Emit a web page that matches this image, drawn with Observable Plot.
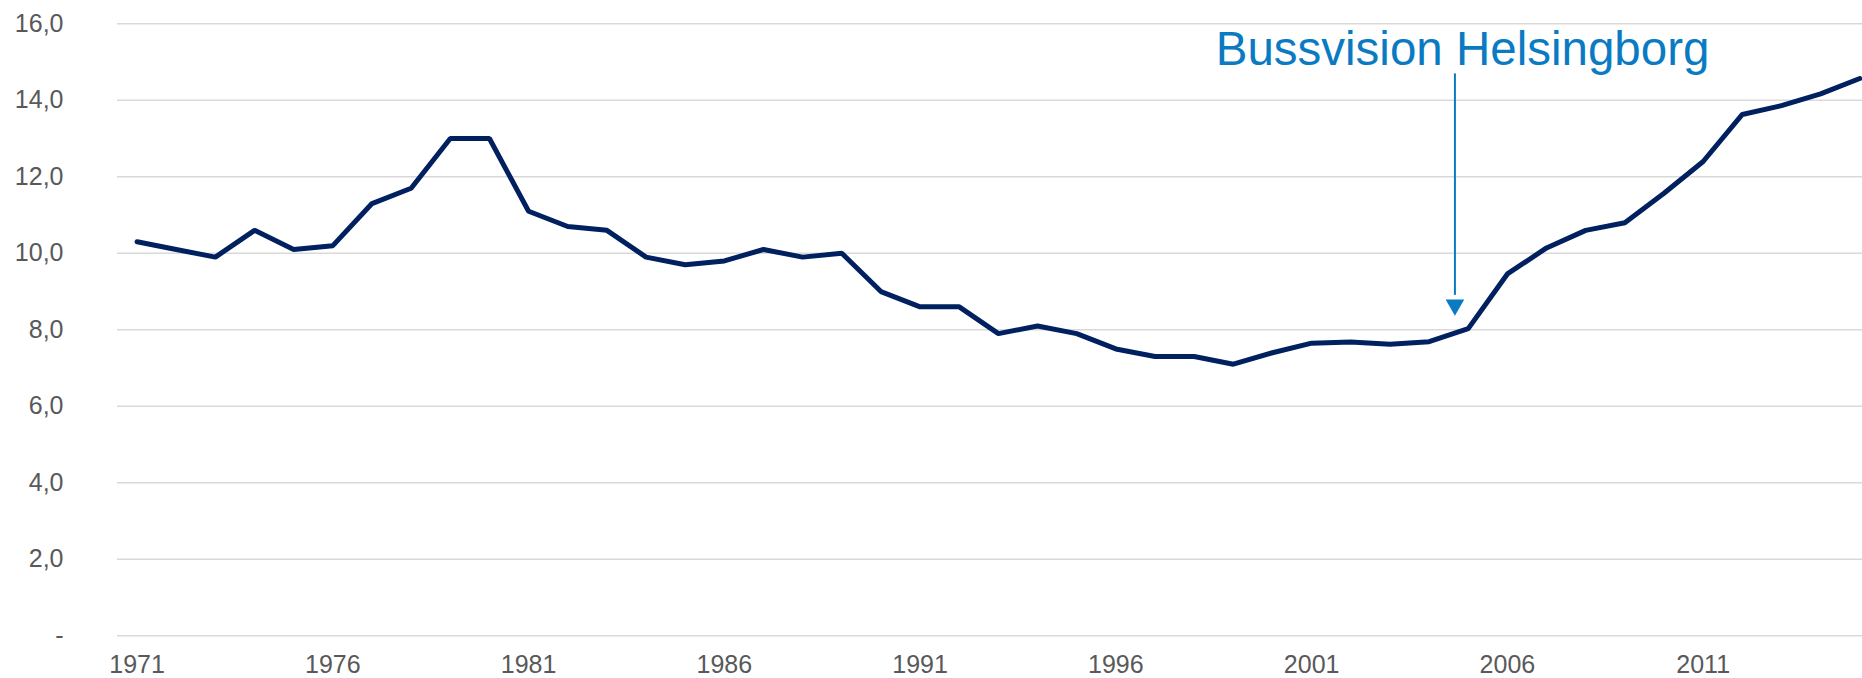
<!DOCTYPE html>
<html>
<head>
<meta charset="utf-8">
<script src="https://cdn.jsdelivr.net/npm/d3@7"></script>
<script src="https://cdn.jsdelivr.net/npm/@observablehq/plot@0.6"></script>
<style>
  html, body { margin: 0; padding: 0; background: #ffffff; }
  #chart svg { display: block; }
</style>
</head>
<body>
<div id="chart"></div>
<script>
// Years and values
const years = [1971,1972,1973,1974,1975,1976,1977,1978,1979,1980,
               1981,1982,1983,1984,1985,1986,1987,1988,1989,1990,
               1991,1992,1993,1994,1995,1996,1997,1998,1999,2000,
               2001,2002,2003,2004,2005,2006,2007,2008,2009,2010,
               2011,2012,2013,2014,2015];
const values = [10.3,10.1,9.9,10.6,10.1,10.2,11.3,11.7,13.0,13.0,
                11.1,10.7,10.6,9.9,9.7,9.8,10.1,9.9,10.0,9.0,
                8.6,8.6,7.9,8.1,7.9,7.5,7.3,7.3,7.1,7.4,
                7.65,7.68,7.62,7.69,8.03,9.46,10.14,10.6,10.8,11.57,
                12.4,13.63,13.86,14.17,14.57];

// Tick labels
const xTicks = [1971,1976,1981,1986,1991,1996,2001,2006,2011];
const yTicks = [0,2,4,6,8,10,12,14,16];

// Annotation
const annotationText = "Bussvision Helsingborg";
const annotationYear = 2004.66;

const data = years.map((y, i) => ({year: y, value: values[i]}));

const font = "'Liberation Sans', Arial, Helvetica, sans-serif";
const blue = "#0a7bc2";
const yFmt = d => d === 0 ? "-" : d.toFixed(1).replace(".", ",");

const chart = Plot.plot({
  width: 1862,
  height: 678,
  marginLeft: 117,
  marginRight: 0,
  marginTop: 23.3,
  marginBottom: 42.7,
  style: {fontFamily: font, fontSize: "25px", color: "#595959", background: "#ffffff"},
  x: {type: "linear", domain: [1970.5, 2015.07], label: null},
  y: {domain: [0, 16], label: null},
  marks: [
    Plot.ruleY(yTicks, {stroke: "#d9d9d9", strokeWidth: 1.5}),
    Plot.axisX({ticks: xTicks, tickFormat: d => String(d), tickSize: 0, tickPadding: 19, label: null, fill: "#595959"}),
    Plot.axisY({ticks: yTicks, tickFormat: yFmt, tickSize: 0, tickPadding: 54, label: null, fill: "#595959"}),
    Plot.line(data, {x: "year", y: "value", stroke: "#002060", strokeWidth: 5, strokeLinejoin: "miter", clip: true}),
    Plot.ruleX([annotationYear], {y1: 14.69, y2: 8.9, stroke: blue, strokeWidth: 2}),
    Plot.dot([annotationYear], {x: d => d, y: 8.65, symbol: "triangle", r: 6.9, rotate: 180, fill: blue, stroke: "none"}),
    Plot.text([annotationText], {x: 1998.55, y: 14.93, text: d => d, textAnchor: "start", lineAnchor: "bottom", fontSize: 47.5, fill: blue, fontFamily: font})
  ]
});

document.getElementById("chart").appendChild(chart);
</script>
</body>
</html>
